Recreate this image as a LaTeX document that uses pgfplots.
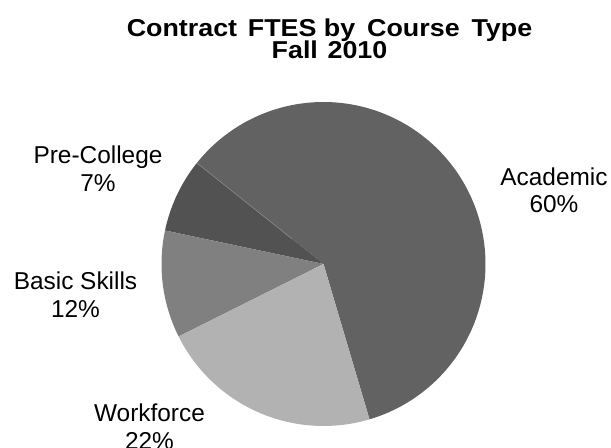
\documentclass[border=0pt]{standalone}
\usepackage{pgfplots}
\pgfplotsset{compat=1.18}
\usepackage{fontspec}
\setmainfont{Liberation Sans}

\definecolor{cAcad}{RGB}{98,98,98}
\definecolor{cPre}{RGB}{82,82,82}
\definecolor{cBasic}{RGB}{128,128,128}
\definecolor{cWork}{RGB}{178,178,178}
\definecolor{cEdge}{RGB}{135,135,135}

% shares in percent, counter-clockwise from the Workforce/Academic edge
\def\shAcad{59.7}
\def\shPre{7.4}
\def\shBasic{10.7}
\def\shWork{22.2}

\begin{document}
\begin{tikzpicture}[x=1bp,y=1bp]
\useasboundingbox (0,0) rectangle (611,448);
\pgfmathsetmacro\aA{286.5}
\pgfmathsetmacro\aB{\aA+3.6*\shAcad}
\pgfmathsetmacro\aC{\aB+3.6*\shPre}
\pgfmathsetmacro\aD{\aC+3.6*\shBasic}
\pgfmathsetmacro\aE{\aD+3.6*\shWork}
\begin{axis}[
  at={(323.5bp,184bp)}, anchor=center,
  width=324bp, height=324bp, scale only axis,
  hide axis, clip=false,
  xmin=-1, xmax=1, ymin=-1, ymax=1,
]
\addplot[fill=cAcad, draw=none, data cs=polar, domain=\aA:\aB, samples=120] ({x},{1}) -- (axis cs:0,0) -- cycle;
\addplot[fill=cPre, draw=none, data cs=polar, domain=\aB:\aC, samples=20] ({x},{1}) -- (axis cs:0,0) -- cycle;
\addplot[fill=cBasic, draw=none, data cs=polar, domain=\aC:\aD, samples=30] ({x},{1}) -- (axis cs:0,0) -- cycle;
\addplot[fill=cWork, draw=none, data cs=polar, domain=\aD:\aE, samples=50] ({x},{1}) -- (axis cs:0,0) -- cycle;
\addplot[draw=cEdge, line width=0.6bp, data cs=polar, mark=none] coordinates {(\aB,0.25) (\aB,1)};
\end{axis}
\begin{scope}[every node/.style={inner sep=0pt, anchor=base}]
\node[font=\fontsize{24.5}{28}\selectfont\bfseries] at (329.5,411.3) {\scalebox{1.1}[1]{Contract\hspace{3bp} FTES by\hspace{4bp} Course\hspace{4bp} Type}};
\node[font=\fontsize{24.5}{28}\selectfont\bfseries] at (329.5,389) {\scalebox{1.1}[1]{Fall\hspace{2bp} 2010}};
\begin{scope}[font=\fontsize{24.5}{28}\selectfont]
\node at (554,262) {Academic};
\node at (554,235) {60\%};
\node at (98,284.5) {Pre-College};
\node at (98,256) {7\%};
\node at (75.5,158) {Basic Skills};
\node at (75.5,130) {12\%};
\node at (149.5,26) {Workforce};
\node at (149.5,-2) {22\%};
\end{scope}
\end{scope}
\end{tikzpicture}
\end{document}
